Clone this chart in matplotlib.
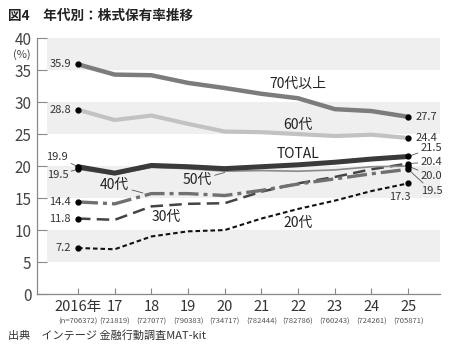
import matplotlib.pyplot as plt

plt.rcParams['font.family'] = ['Noto Sans CJK JP', 'DejaVu Sans']

years = [2016, 2017, 2018, 2019, 2020, 2021, 2022, 2023, 2024, 2025]
year_labels = ['2016年', '17', '18', '19', '20', '21', '22', '23', '24', '25']
n_labels = ['(n=706372)', '(721819)', '(727077)', '(790383)', '(734717)',
            '(782444)', '(782786)', '(760243)', '(724261)', '(705871)']

age70 = [35.9, 34.3, 34.2, 33.0, 32.2, 31.3, 30.6, 28.9, 28.6, 27.7]
age60 = [28.8, 27.2, 27.9, 26.6, 25.4, 25.3, 25.0, 24.7, 24.9, 24.4]
total = [19.9, 18.9, 20.1, 19.9, 19.6, 19.9, 20.2, 20.6, 21.1, 21.5]
age50 = [19.5, 18.7, 19.8, 19.6, 19.2, 19.3, 19.2, 19.4, 19.9, 20.0]
age40 = [14.4, 14.1, 15.7, 15.7, 15.4, 16.2, 17.2, 18.0, 18.8, 19.5]
age30 = [11.8, 11.6, 13.7, 14.1, 14.2, 16.0, 17.3, 18.3, 19.5, 20.4]
age20 = [7.2, 7.0, 9.0, 9.8, 10.0, 11.8, 13.3, 14.6, 16.1, 17.3]

fig = plt.figure(figsize=(4.5, 3.53), dpi=100)
ax = fig.add_axes([0.082, 0.167, 0.896, 0.725])

# gray bands
for lo in [35, 25, 15, 5]:
    ax.axhspan(lo, lo + 5, xmin=0.025, xmax=1, color='#efefef', lw=0, zorder=0)

ax.plot(years, age70, color='#7c7c7c', lw=3.2, solid_capstyle='round', zorder=3)
ax.plot(years, age60, color='#c2c2c2', lw=3.0, solid_capstyle='round', zorder=3)
ax.plot(years, age20, color='#111111', lw=1.5, ls=(0, (2.2, 1.4)), zorder=3)
ax.plot(years, age30, color='#444444', lw=1.8, ls=(0, (5, 2.5)), zorder=3)
ax.plot(years, age40, color='#707070', lw=2.4, ls=(0, (6, 1.5, 1.2, 1.5)), zorder=3)
ax.plot(years, age50, color='#8a8a8a', lw=1.2, zorder=4)
ax.plot(years, total, color='#3a3a3a', lw=3.6, solid_capstyle='round', zorder=5)

for s in [age70, age60, total, age50, age40, age30, age20]:
    ax.plot([years[0], years[-1]], [s[0], s[-1]], 'o', color='black', ms=3.5, zorder=6)

ax.set_xlim(2014.88, 2025.87)
ax.set_ylim(0, 40)
ax.set_yticks(range(0, 41, 5))
ax.set_xticks(years)
ax.set_xticklabels([])
ax.tick_params(axis='y', direction='in', length=7, width=0.8, color='#888888',
               labelsize=11, labelcolor='#444444', pad=4)
ax.tick_params(axis='x', direction='in', length=4, width=0.8, color='#888888')
for side in ['top', 'right']:
    ax.spines[side].set_visible(False)
for side in ['left', 'bottom']:
    ax.spines[side].set_color('#888888')
    ax.spines[side].set_linewidth(0.9)

for x, lab, n in zip(years, year_labels, n_labels):
    ax.annotate(lab, (x, 0), xytext=(0, -4), textcoords='offset points',
                ha='center', va='top', fontsize=10.5, color='#333333')
    ax.annotate(n, (x, 0), xytext=(0, -17), textcoords='offset points',
                ha='center', va='top', fontsize=5.5, color='#555555')

ax.text(-0.037, 0.935, '(%)', transform=ax.transAxes, ha='center', va='center',
        fontsize=8, color='#444444')

tc = '#333333'
lead = dict(arrowstyle='-', color='#555555', lw=0.6, shrinkA=0, shrinkB=1)

def val(s, i, dx, dy, ha='right', leader=False):
    ax.annotate('%.1f' % s[i], (years[i], s[i]), xytext=(dx, dy), textcoords='offset points',
                ha=ha, va='center', fontsize=8, color=tc,
                arrowprops=lead if leader else None)

val(age70, 0, -5, 0)
val(age60, 0, -5, 0)
val(age40, 0, -5, 0)
val(age30, 0, -5, 0)
val(age20, 0, -5, 0)
val(total, 0, -7, 7, leader=True)
val(age50, 0, -7, -4, leader=True)

val(age70, -1, 5, 0, 'left')
val(age60, -1, 5, 0, 'left')
val(total, -1, 9, 6, 'left', leader=True)
val(age30, -1, 9, 1, 'left', leader=True)
val(age50, -1, 9, -7, 'left', leader=True)
val(age40, -1, 9, -15.5, 'left', leader=True)
val(age20, -1, 2, -10, 'right')

# series labels
lc = '#222222'
ax.text(2022.0, 32.8, '70代以上', ha='center', va='center', fontsize=10, color=lc)
ax.text(2022.0, 26.4, '60代', ha='center', va='center', fontsize=10, color=lc)
ax.text(2022.0, 21.9, 'TOTAL', ha='center', va='center', fontsize=10, color=lc)
ax.text(2022.0, 11.1, '20代', ha='center', va='center', fontsize=10, color=lc)
ax.text(2018.4, 12.0, '30代', ha='center', va='center', fontsize=10, color=lc)
ax.annotate('50代', (2020.0, 19.0), xytext=(2019.25, 17.8), textcoords='data',
            ha='center', va='center', fontsize=10, color=lc,
            arrowprops=dict(arrowstyle='-', color='#555555', lw=0.6, shrinkA=9, shrinkB=0))
ax.annotate('40代', (2017.77, 15.8), xytext=(2017.0, 17.0), textcoords='data',
            ha='center', va='center', fontsize=10, color=lc,
            arrowprops=dict(arrowstyle='-', color='#555555', lw=0.6, shrinkA=9, shrinkB=0))

fig.text(0.018, 0.955, '図4　年代別：株式保有率推移', fontsize=9.8, fontweight='bold',
         color='#222222', va='center')
fig.text(0.018, 0.05, '出典　インテージ 金融行動調査MAT-kit', fontsize=8,
         color='#333333', va='center')

fig.savefig('out.png', dpi=100)
